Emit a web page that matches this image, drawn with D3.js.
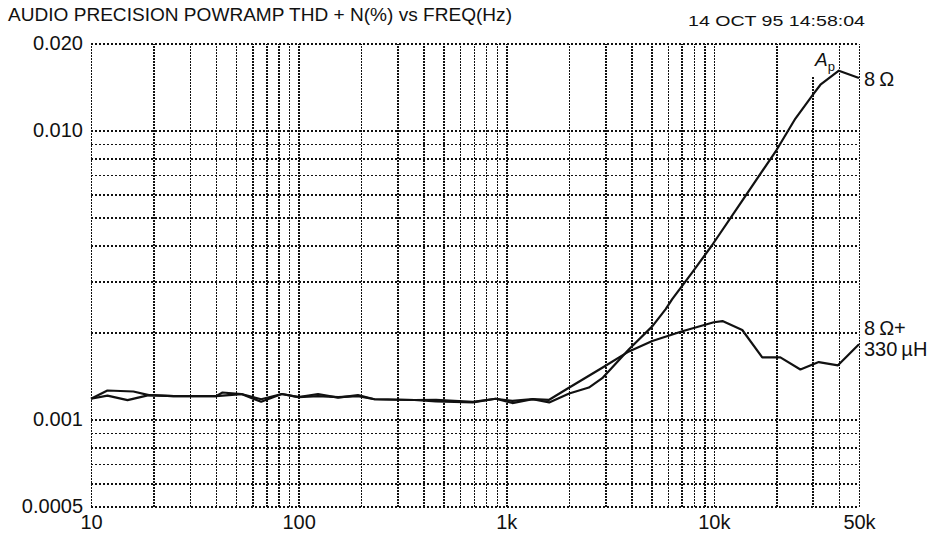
<!DOCTYPE html>
<html>
<head>
<meta charset="utf-8">
<script src="https://cdn.jsdelivr.net/npm/d3@7"></script>
<style>
  html, body { margin: 0; padding: 0; background: #fff; }
  svg { display: block; font-family: "Liberation Sans", Arial, Helvetica, sans-serif; }
</style>
</head>
<body>
<svg id="chart" width="939" height="541"></svg>
<script>
// ---- data ----
const titleText = "AUDIO PRECISION POWRAMP THD + N(%) vs FREQ(Hz)";
const dateText = "14 OCT 95 14:58:04";

const xTickValues = [10, 100, 1000, 10000, 50000];
const xTickLabels = ["10", "100", "1k", "10k", "50k"];
const yTickValues = [0.0005, 0.001, 0.010, 0.020];
const yTickLabels = ["0.0005", "0.001", "0.010", "0.020"];

// 8 ohm resistive load
const ohm8Freq = [10, 12, 16, 19, 25, 40, 43, 53, 66, 83, 100, 124, 155, 193, 232, 361, 459, 690, 890, 1070, 1340, 1610,
  2010, 2500, 2900, 3900, 5050, 5860, 6300, 7870, 9780, 13200, 20000, 24700, 30000, 32600, 40000, 50000];
const ohm8Thd = [0.00118, 0.00126, 0.00125, 0.001215, 0.001205, 0.001205, 0.00124, 0.001225, 0.001175, 0.001225, 0.001195,
  0.001205, 0.001195, 0.001205, 0.001175, 0.001168, 0.00117, 0.00115, 0.00118, 0.00114, 0.001175, 0.001146,
  0.00123, 0.00129, 0.00139, 0.00175, 0.0021, 0.00241, 0.00261, 0.00323, 0.0040, 0.0055, 0.00854, 0.0110, 0.0133, 0.0144, 0.0161, 0.0152];

// 8 ohm + 330 uH load
const indFreq = [10, 12, 15, 19, 25, 40, 43, 53, 66, 83, 100, 124, 155, 193, 232, 361, 459, 690, 890, 1070, 1340, 1610,
  1940, 2900, 3900, 5050, 7050, 10000, 11000, 13700, 17100, 20900, 26100, 32000, 39600, 50000];
const indThd = [0.00118, 0.00121, 0.001167, 0.001215, 0.001205, 0.001205, 0.00121, 0.001225, 0.001152, 0.001225, 0.001195,
  0.001225, 0.00119, 0.001215, 0.001175, 0.001168, 0.001155, 0.001146, 0.00118, 0.00116, 0.001176, 0.00117,
  0.00127, 0.00151, 0.00172, 0.00187, 0.00202, 0.00217, 0.00219, 0.00204, 0.00164, 0.00164, 0.00149, 0.00158, 0.00154, 0.00182];

// grid
const xGridValues = [];
[10, 100, 1000, 10000].forEach(dec => { for (let d = 1; d <= 9; d++) { const v = d * dec; if (v <= 50000) xGridValues.push(v); } });
xGridValues.push(50000);
const yGridValues = [0.0005, 0.0006, 0.0007, 0.0008, 0.0009, 0.001, 0.002, 0.003, 0.004, 0.005, 0.006, 0.007, 0.008, 0.009, 0.010, 0.020];

// Ap marker
const apFreq = 30000;
const apTopThd = 0.0153;

// ---- drawing ----
const svg = d3.select("#chart");
const x = d3.scaleLog().domain([10, 50000]).range([91, 859]);
const y = d3.scaleLog().domain([0.0005, 0.020]).range([506.5, 43.5]);
const ink = "#111";

// horizontal grid
const gY = svg.append("g")
  .attr("transform", `translate(${x(10)},0)`)
  .call(d3.axisLeft(y).tickValues(yGridValues).tickSize(-(x(50000) - x(10))).tickFormat(""));
gY.select(".domain").remove();
gY.selectAll(".tick line").attr("stroke", ink).attr("stroke-width", 1.3)
  .attr("stroke-dasharray", "2,2").attr("shape-rendering", "crispEdges");

// vertical grid
const gX = svg.append("g")
  .attr("transform", `translate(0,${y(0.0005)})`)
  .call(d3.axisBottom(x).tickValues(xGridValues.filter(v => v !== apFreq)).tickSize(-(y(0.0005) - y(0.020))).tickFormat(""));
gX.select(".domain").remove();
gX.selectAll(".tick line").attr("stroke", ink).attr("stroke-width", 1.5)
  .attr("stroke-dasharray", "2,1").attr("shape-rendering", "crispEdges");

// Ap marker line (30k grid line starting below the label)
svg.append("line")
  .attr("x1", x(apFreq)).attr("x2", x(apFreq))
  .attr("y1", y(apTopThd)).attr("y2", y(0.0005))
  .attr("stroke", ink).attr("stroke-width", 2).attr("stroke-dasharray", "2,1").attr("shape-rendering", "crispEdges");

// y labels
const ayl = svg.append("g")
  .attr("transform", `translate(${x(10) - 8},0)`)
  .call(d3.axisLeft(y).tickValues(yTickValues).tickSize(0).tickPadding(0)
    .tickFormat((d, i) => yTickLabels[i]));
ayl.select(".domain").remove();
ayl.selectAll("text").attr("font-size", 20).attr("fill", ink)
  .attr("font-family", "'Liberation Sans', Arial, sans-serif");

// x labels
const axl = svg.append("g")
  .attr("transform", `translate(0,${y(0.0005) + 8})`)
  .call(d3.axisBottom(x).tickValues(xTickValues).tickSize(0).tickPadding(0)
    .tickFormat((d, i) => xTickLabels[i]));
axl.select(".domain").remove();
axl.selectAll("text").attr("font-size", 20).attr("fill", ink)
  .attr("font-family", "'Liberation Sans', Arial, sans-serif");

// curves
const line = d3.line().x(d => x(d[0])).y(d => y(d[1]));
svg.append("path")
  .datum(indFreq.map((f, i) => [f, indThd[i]]))
  .attr("d", line).attr("fill", "none").attr("stroke", ink).attr("stroke-width", 2.2).attr("stroke-linejoin", "round");
svg.append("path")
  .datum(ohm8Freq.map((f, i) => [f, ohm8Thd[i]]))
  .attr("d", line).attr("fill", "none").attr("stroke", ink).attr("stroke-width", 2.2).attr("stroke-linejoin", "round");

// titles
svg.append("text").attr("x", 8).attr("y", 21).attr("font-size", 18.5).attr("fill", ink)
  .attr("textLength", 504).attr("lengthAdjust", "spacingAndGlyphs").text(titleText);
svg.append("text").attr("x", 688).attr("y", 26).attr("font-size", 15.5).attr("fill", ink)
  .attr("textLength", 177).attr("lengthAdjust", "spacingAndGlyphs").text(dateText);

// series labels
const labX = x(50000) + 5;
svg.append("text").attr("x", labX).attr("y", y(ohm8Thd[ohm8Thd.length - 1]) + 8)
  .attr("font-size", 20).attr("fill", ink).text("8\u2009\u03A9");
const indLab = svg.append("text").attr("x", labX).attr("y", 335).attr("font-size", 20).attr("fill", ink);
indLab.append("tspan").attr("x", labX).attr("dy", 0).text("8\u2009\u03A9+");
indLab.append("tspan").attr("x", labX).attr("dy", 21).text("330\u2009\u00B5H");

// Ap label
const ap = svg.append("text").attr("x", x(apFreq) + 2).attr("y", 66).attr("font-size", 19).attr("fill", ink);
ap.append("tspan").attr("font-style", "italic").text("A");
ap.append("tspan").attr("font-size", 13).attr("dy", 5).text("p");
</script>
</body>
</html>
